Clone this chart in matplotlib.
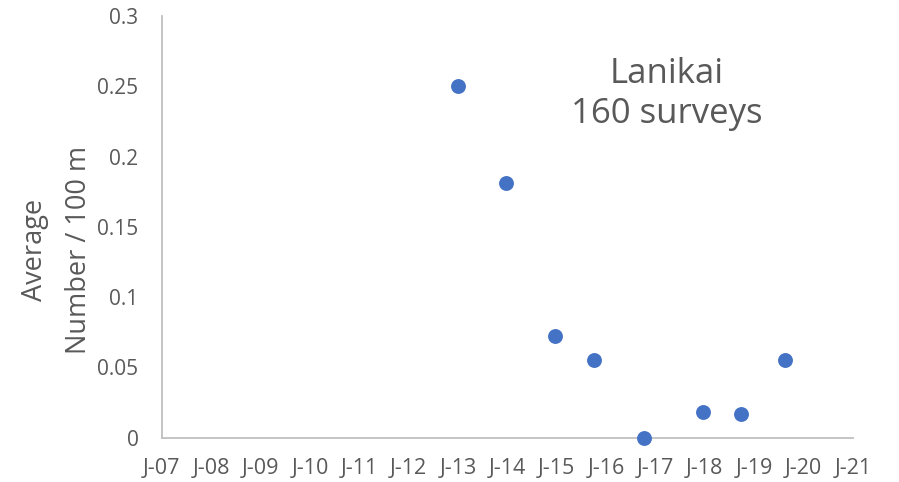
import numpy as np
import pandas as pd
import matplotlib
matplotlib.use("Agg")
import matplotlib.pyplot as plt
import matplotlib.dates as mdates

# survey dates and average counts per 100 m
survey_dates = ["2012-12-29", "2013-12-22", "2014-12-20", "2015-10-04",
                "2016-10-04", "2017-12-18", "2018-09-28", "2019-08-20"]
avg_per_100m = [0.25, 0.181, 0.072, 0.055, 0.0, 0.018, 0.017, 0.055]

site_name = "Lanikai"
n_surveys = 160

plt.rcParams['font.family'] = ['Open Sans', 'DejaVu Sans']
grey = '#595959'

dates = pd.to_datetime(survey_dates)

fig = plt.figure(figsize=(8.99, 4.82), dpi=100)
ax = fig.add_axes([0.1802, 0.0923, 0.7686, 0.8745])

ax.scatter(dates, avg_per_100m, s=115, color='#4472C4', zorder=3,
           clip_on=False, linewidths=0)

ax.set_xlim(pd.Timestamp("2007-01-01"), pd.Timestamp("2021-01-01"))
ax.set_ylim(0, 0.3)
ax.set_yticks(np.arange(0, 0.31, 0.05))
ax.set_yticklabels(['0', '0.05', '0.1', '0.15', '0.2', '0.25', '0.3'])

ax.xaxis.set_major_locator(mdates.YearLocator())
ax.xaxis.set_major_formatter(mdates.DateFormatter('J-%y'))

for side in ['top', 'right']:
    ax.spines[side].set_visible(False)
for side in ['left', 'bottom']:
    ax.spines[side].set_color('#bfbfbf')
    ax.spines[side].set_linewidth(1.3)

ax.tick_params(axis='both', length=0, colors=grey, labelsize=15)
ax.tick_params(axis='x', labelsize=15.5, pad=15)
ax.tick_params(axis='y', pad=17)

# y title drawn as free text so both lines sit where wanted
ax.text(-0.1525, 0.445, 'Average\nNumber / 100 m', transform=ax.transAxes,
        rotation=90, ha='center', va='center', fontsize=19.5, color=grey,
        linespacing=1.75)

ax.text(0.731, 0.815, f'{site_name}\n{n_surveys} surveys', transform=ax.transAxes,
        ha='center', va='center', fontsize=25, color=grey, linespacing=1.2)

fig.savefig('out.png', dpi=100)
